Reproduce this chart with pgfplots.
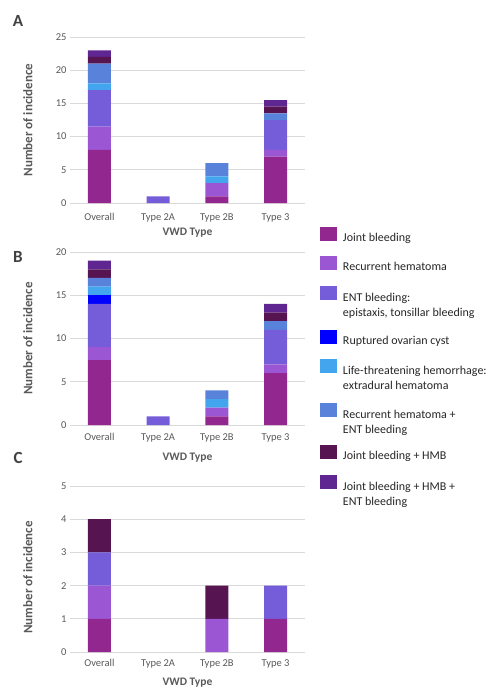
\documentclass[border=0pt]{standalone}
\usepackage{fontspec}
\setmainfont{Carlito}
\usepackage{pgfplots}
\pgfplotsset{compat=1.18}
\definecolor{cJoint}{HTML}{92278F}
\definecolor{cRec}{HTML}{9B57D3}
\definecolor{cEnt}{HTML}{755DD9}
\definecolor{cRupt}{HTML}{0000FF}
\definecolor{cLife}{HTML}{42A5EE}
\definecolor{cRecEnt}{HTML}{5983DB}
\definecolor{cJHMB}{HTML}{561550}
\definecolor{cJHE}{HTML}{5F2590}
\definecolor{tgray}{HTML}{595959}
\definecolor{lgray}{HTML}{404040}
\definecolor{ggray}{HTML}{D9D9D9}
\newcommand{\two}[2]{\begin{tabular}[t]{@{}l@{}}#1\\#2\end{tabular}}
\pgfplotsset{
  panel/.style={
    scale only axis, width=235pt,
    xmin=-0.5, xmax=3.5, ymin=0,
    xtick={0,1,2,3}, xticklabels={Overall,Type 2A,Type 2B,Type 3},
    ybar stacked, bar width=23pt,
    axis line style={draw=none},
    ymajorgrids, grid style={color=ggray, line width=0.7pt},
    major tick length=0pt,
    tick label style={font=\fontsize{10.5}{12}\selectfont, text=tgray},
    /pgf/number format/assume math mode=true,
    xlabel={VWD Type}, ylabel={Number of incidence},
    xlabel style={font=\bfseries\fontsize{11.5}{13}\selectfont, text=tgray, anchor=center},
    ylabel style={font=\bfseries\fontsize{13}{15}\selectfont, text=tgray, anchor=center, rotate=0},
    every axis plot/.append style={draw=none},
    legend image code/.code={\fill[##1] (0pt,-3pt) rectangle (17pt,11pt);},
  },
  sq2/.style={legend image code/.code={\fill[##1] (0pt,-3pt) rectangle (17pt,11pt); \path (0pt,-19.5pt);}},
  sq3/.style={legend image code/.code={\fill[##1] (0pt,-3pt) rectangle (17pt,11pt); \path (0pt,-17.5pt);}},
}
\begin{document}
\begin{tikzpicture}
\path[use as bounding box] (0,0) rectangle (487pt,-690pt);
\node[font=\bfseries\fontsize{17}{17}\selectfont, text=lgray] at (18pt,-21pt) {A};
\node[font=\bfseries\fontsize{17}{17}\selectfont, text=lgray] at (18pt,-257pt) {B};
\node[font=\bfseries\fontsize{17}{17}\selectfont, text=lgray] at (18pt,-458pt) {C};
% Panel A
\begin{axis}[panel, at={(70pt,-203pt)}, anchor=south west, height=166pt,
  ymax=25, ytick={0,5,10,15,20,25},
  xticklabel style={yshift=-7pt},
  xlabel style={at={(axis description cs:0.5,-0.178)}},
  ylabel style={at={(axis description cs:-0.179,0.5)}}]
\addplot[fill=cJoint] coordinates {(0,8) (1,0) (2,1) (3,7)};
\addplot[fill=cRec] coordinates {(0,3.5) (1,0) (2,2) (3,1)};
\addplot[fill=cEnt] coordinates {(0,5.5) (1,1) (2,0) (3,4.5)};
\addplot[fill=cRupt] coordinates {(0,0) (1,0) (2,0) (3,0)};
\addplot[fill=cLife] coordinates {(0,1) (1,0) (2,1) (3,0)};
\addplot[fill=cRecEnt] coordinates {(0,3) (1,0) (2,2) (3,1)};
\addplot[fill=cJHMB] coordinates {(0,1) (1,0) (2,0) (3,1)};
\addplot[fill=cJHE] coordinates {(0,1) (1,0) (2,0) (3,1)};
\end{axis}
% Panel B
\begin{axis}[panel, at={(70pt,-425pt)}, anchor=south west, height=173pt,
  ymax=20, ytick={0,5,10,15,20},
  xticklabel style={yshift=-5pt},
  xlabel style={at={(axis description cs:0.5,-0.187)}},
  ylabel style={at={(axis description cs:-0.179,0.5)}},
  legend style={at={(axis description cs:1.0638,1.1445)}, anchor=north west,
    draw=none, fill=none, inner sep=0pt, outer sep=0pt, row sep=13.5pt, column sep=6pt,
    font=\fontsize{12}{15}\selectfont, text=black!85,
    nodes={inner sep=0pt, outer sep=0pt}},
  legend cell align=left]
\addplot[fill=cJoint] coordinates {(0,7.5) (1,0) (2,1) (3,6)};
\addlegendentry{Joint bleeding}
\addplot[fill=cRec] coordinates {(0,1.5) (1,0) (2,1) (3,1)};
\addlegendentry{Recurrent hematoma}
\addplot[fill=cEnt, sq2] coordinates {(0,5) (1,1) (2,0) (3,4)};
\addlegendentry{\two{ENT bleeding:}{epistaxis, tonsillar bleeding}}
\addplot[fill=cRupt] coordinates {(0,1) (1,0) (2,0) (3,0)};
\addlegendentry{Ruptured ovarian cyst}
\addplot[fill=cLife, sq2] coordinates {(0,1) (1,0) (2,1) (3,0)};
\addlegendentry{\two{Life-threatening hemorrhage:}{extradural hematoma}}
\addplot[fill=cRecEnt, sq3] coordinates {(0,1) (1,0) (2,1) (3,1)};
\addlegendentry{\two{Recurrent hematoma +}{ENT bleeding}}
\addplot[fill=cJHMB] coordinates {(0,1) (1,0) (2,0) (3,1)};
\addlegendentry{Joint bleeding + HMB}
\addplot[fill=cJHE, sq2] coordinates {(0,1) (1,0) (2,0) (3,1)};
\addlegendentry{\two{Joint bleeding + HMB +}{ENT bleeding}}
\end{axis}
% Panel C
\begin{axis}[panel, at={(70pt,-652pt)}, anchor=south west, height=166pt,
  ymax=5, ytick={0,1,2,3,4,5},
  xticklabel style={yshift=-4pt},
  xlabel style={at={(axis description cs:0.5,-0.187)}},
  ylabel style={at={(axis description cs:-0.179,0.45)}}]
\addplot[fill=cJoint] coordinates {(0,1) (1,0) (2,0) (3,1)};
\addplot[fill=cRec] coordinates {(0,1) (1,0) (2,1) (3,0)};
\addplot[fill=cEnt] coordinates {(0,1) (1,0) (2,0) (3,1)};
\addplot[fill=cRupt] coordinates {(0,0) (1,0) (2,0) (3,0)};
\addplot[fill=cLife] coordinates {(0,0) (1,0) (2,0) (3,0)};
\addplot[fill=cRecEnt] coordinates {(0,0) (1,0) (2,0) (3,0)};
\addplot[fill=cJHMB] coordinates {(0,1) (1,0) (2,1) (3,0)};
\addplot[fill=cJHE] coordinates {(0,0) (1,0) (2,0) (3,0)};
\end{axis}
\end{tikzpicture}
\end{document}
